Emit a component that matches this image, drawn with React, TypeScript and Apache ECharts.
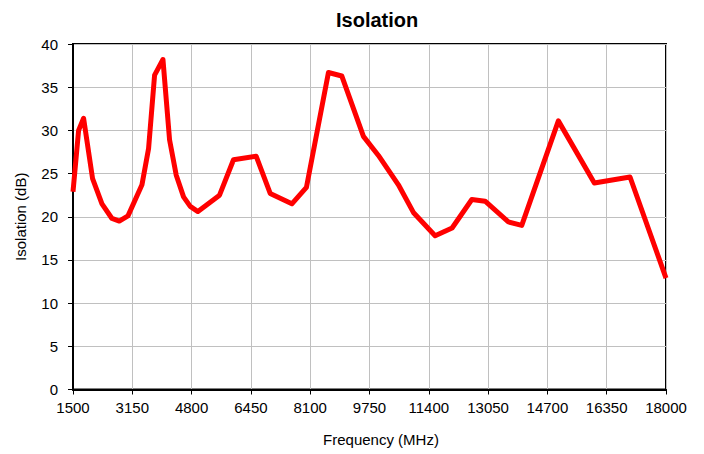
import React, { useEffect, useRef } from "react";
import * as echarts from "echarts";

const frequencies = [
  1500, 1656, 1795, 2045, 2306, 2584, 2788, 3030, 3419, 3603, 3770, 4003, 4187,
  4373, 4576, 4762, 4976, 5577, 5966, 6598, 6987, 7590, 7995, 8608, 8978, 9581,
  9998, 10554, 10971, 11576, 12048, 12597, 12967, 13614, 13986, 15005, 16006,
  16999, 18000,
];
const isolation = [
  22.9, 30.0, 31.4, 24.4, 21.5, 19.8, 19.5, 20.1, 23.7, 27.9, 36.4, 38.2, 28.9,
  24.8, 22.3, 21.2, 20.6, 22.5, 26.6, 27.0, 22.7, 21.5, 23.4, 36.7, 36.3, 29.3,
  27.1, 23.7, 20.5, 17.8, 18.7, 22.0, 21.8, 19.4, 19.0, 31.1, 23.9, 24.6, 12.9,
];
const xStart = 1500;
const xEnd = 18000;
const xStep = 1650;
const yMin = 0;
const yMax = 40;
const yStep = 5;

const FONT = "Liberation Sans, Arial, sans-serif";

export default function App() {
  const ref = useRef<HTMLDivElement>(null);
  useEffect(() => {
    if (!ref.current) return;
    const chart = echarts.init(ref.current, undefined, { renderer: "svg" });
    const data = frequencies.map((f, i) => [f, isolation[i]]);
    chart.setOption({
      animation: false,
      backgroundColor: "#fff",
      title: {
        text: "Isolation",
        left: 331,
        top: 5,
        textStyle: { fontFamily: FONT, fontSize: 20, fontWeight: "bold", color: "#000" },
      },
      grid: {
        left: 73,
        right: 38,
        top: 44,
        bottom: 64.5,
        show: true,
        borderColor: "#000",
        borderWidth: 2,
        backgroundColor: "transparent",
      },
      xAxis: [
        {
          type: "value",
          min: 0,
          max: xEnd - xStart,
          interval: xStep,
          name: "Frequency (MHz)",
          nameLocation: "middle",
          nameGap: 42,
          nameTextStyle: { fontFamily: FONT, fontSize: 15, color: "#000", padding: [0, 0, 0, 23] },
          axisLine: { show: true, lineStyle: { color: "#000", width: 2 } },
          axisTick: { show: true, inside: false, length: 5, lineStyle: { color: "#000", width: 1 } },
          axisLabel: {
            fontFamily: FONT,
            fontSize: 15,
            color: "#000",
            margin: 10,
            formatter: (v: number) => String(v + xStart),
          },
          splitLine: { show: true, lineStyle: { color: "#c0c0c0", width: 1 } },
        },
        {
          type: "value",
          min: xStart,
          max: xEnd,
          show: false,
        },
      ],
      yAxis: {
        type: "value",
        min: yMin,
        max: yMax,
        interval: yStep,
        name: "Isolation (dB)",
        nameLocation: "middle",
        nameGap: 45,
        nameTextStyle: { fontFamily: FONT, fontSize: 15, color: "#000" },
        axisLine: { show: true, lineStyle: { color: "#000", width: 2 } },
        axisTick: { show: true, inside: false, length: 5, lineStyle: { color: "#000", width: 1 } },
        axisLabel: { fontFamily: FONT, fontSize: 15, color: "#000", margin: 15 },
        splitLine: { show: true, lineStyle: { color: "#c0c0c0", width: 1 } },
      },
      series: [
        {
          type: "line",
          xAxisIndex: 1,
          data,
          showSymbol: false,
          symbol: "none",
          lineStyle: { color: "#ff0000", width: 5, join: "round" },
          itemStyle: { color: "#ff0000" },
        },
      ],
    });
    return () => chart.dispose();
  }, []);
  return (
    <div
      ref={ref}
      style={{ position: "fixed", left: 0, top: 0, width: 704, height: 454, background: "#fff" }}
    />
  );
}
